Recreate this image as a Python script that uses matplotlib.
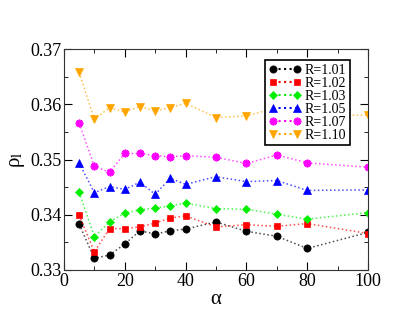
import numpy as np
import matplotlib
matplotlib.use("Agg")
import matplotlib.pyplot as plt
from matplotlib.ticker import MultipleLocator

plt.rcParams['font.family'] = ['Liberation Serif', 'DejaVu Serif']
plt.rcParams['mathtext.fontset'] = 'stix'

# data
alpha = [5, 10, 15, 20, 25, 30, 35, 40, 50, 60, 70, 80, 100]
r101 = [0.3383, 0.3321, 0.3327, 0.3347, 0.3371, 0.3365, 0.3371, 0.3374,
        0.3387, 0.3370, 0.3361, 0.3339, 0.3368]
r102 = [0.3399, 0.3333, 0.3375, 0.3375, 0.3378, 0.3385, 0.3394, 0.3398,
        0.3378, 0.3382, 0.3379, 0.3384, 0.3366]
r103 = [0.3441, 0.3360, 0.3387, 0.3403, 0.3409, 0.3412, 0.3416, 0.3421,
        0.3411, 0.3410, 0.3401, 0.3392, 0.3404]
r105 = [0.3494, 0.3440, 0.3451, 0.3446, 0.3459, 0.3437, 0.3466, 0.3455,
        0.3469, 0.3460, 0.3462, 0.3444, 0.3445]
r107 = [0.3566, 0.3488, 0.3477, 0.3511, 0.3511, 0.3507, 0.3505, 0.3507,
        0.3504, 0.3493, 0.3508, 0.3494, 0.3486]
r110 = [0.3658, 0.3573, 0.3594, 0.3586, 0.3596, 0.3588, 0.3594, 0.3602,
        0.3576, 0.3579, 0.3594, 0.3582, 0.3580]

series = [
    ("R=1.01", r101, "black", "o", 5.2),
    ("R=1.02", r102, "red", "s", 4.8),
    ("R=1.03", r103, "#00ee00", "D", 4.0),
    ("R=1.05", r105, "blue", "^", 5.2),
    ("R=1.07", r107, "magenta", (8, 2, 0), 5.5),
    ("R=1.10", r110, "orange", "v", 5.6),
]

fig = plt.figure(figsize=(4.15, 3.21), dpi=100)
ax = fig.add_axes([0.154, 0.159, 0.733, 0.688])

for label, vals, col, mk, ms in series:
    ax.plot(alpha, vals, color=col, linestyle=':', linewidth=1.1, alpha=0.7)
    mew = 1.3 if isinstance(mk, tuple) else 0.5
    ax.plot(alpha, vals, linestyle='none', marker=mk, markersize=ms,
            color=col, markeredgecolor=col, markeredgewidth=mew)
    # legend proxy
    ax.plot([], [], linestyle=':', color=col, marker=mk, markersize=ms,
            markeredgecolor=col, markeredgewidth=mew, label=label)

ax.set_xlim(0, 100)
ax.set_ylim(0.33, 0.37)
ax.xaxis.set_major_locator(MultipleLocator(20))
ax.xaxis.set_minor_locator(MultipleLocator(10))
ax.yaxis.set_minor_locator(MultipleLocator(0.005))
ax.set_yticks([0.33, 0.34, 0.35, 0.36, 0.37])
ax.set_yticklabels(['0.33', '0.34', '0.35', '0.36', '0.37'])
ax.tick_params(which='both', direction='in', top=True, right=True,
               labelsize=13, pad=2)
ax.tick_params(which='major', length=6)
ax.tick_params(which='minor', length=3)
for s in ax.spines.values():
    s.set_color('#333333')

ax.set_xlabel('α', fontsize=15, labelpad=0)
ax.set_ylabel(r'ρ$_\mathrm{l}$', fontsize=15, labelpad=2)

leg = ax.legend(loc='upper right', bbox_to_anchor=(0.94, 0.95), numpoints=2,
                fontsize=10, frameon=True, fancybox=False, handlelength=2.3,
                handletextpad=0.3, borderpad=0.25, labelspacing=0.0,
                borderaxespad=0)
leg.get_frame().set_edgecolor('black')
leg.get_frame().set_linewidth(1.2)
leg.get_frame().set_alpha(1)

fig.savefig("out.png", dpi=100)
